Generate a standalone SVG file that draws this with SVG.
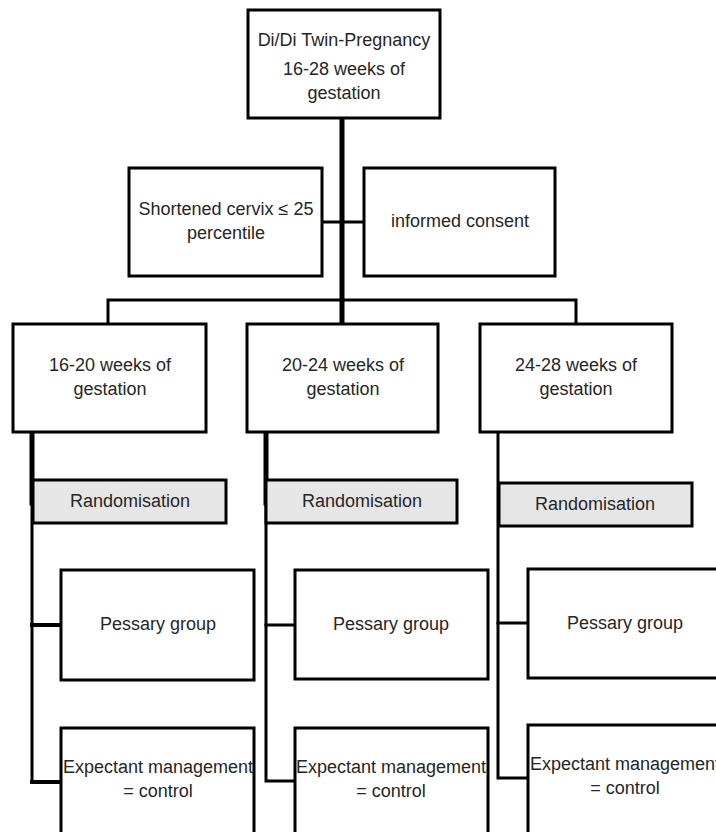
<svg xmlns="http://www.w3.org/2000/svg" width="716" height="832" viewBox="0 0 716 832">
<style>
.box{fill:#ffffff;stroke:#000;stroke-width:3}
.rnd{fill:#e6e6e6;stroke:#000;stroke-width:3}
.t{font-family:"Liberation Sans",Arial,sans-serif;font-size:18px;fill:#262626;text-anchor:middle}
.c{stroke:#000;fill:none;stroke-linecap:square}
</style>
<rect width="716" height="832" fill="#fff"/>
<g id="connectors">
<path class="c" stroke-width="5" d="M342 118V324"/>
<path class="c" stroke-width="3" d="M322 222H364"/>
<path class="c" stroke-width="3" d="M108 324V300H576V324"/>
<path class="c" stroke-width="3" d="M32 432V782H61"/>
<path class="c" stroke-width="5" d="M32 432V503"/>
<path class="c" stroke-width="4" d="M32 625H61"/>
<path class="c" stroke-width="4" d="M32 782H61"/>
<path class="c" stroke-width="3" d="M266 432V781H295"/>
<path class="c" stroke-width="5" d="M266 432V503"/>
<path class="c" stroke-width="3" d="M266 625H295"/>
<path class="c" stroke-width="3" d="M498 432V778H528"/>
<path class="c" stroke-width="3" d="M498 623H528"/>
</g>
<g id="top"><rect class="box" x="248" y="10" width="192" height="108"/>
<text class="t" x="344" y="46">Di/Di Twin-Pregnancy</text>
<text class="t" x="344" y="75">16-28 weeks of</text>
<text class="t" x="344" y="99">gestation</text></g>
<g id="cervix"><rect class="box" x="129" y="168" width="193" height="108"/>
<text class="t" x="226" y="215">Shortened cervix ≤ 25</text>
<text class="t" x="226" y="239">percentile</text></g>
<g id="consent"><rect class="box" x="364" y="168" width="191" height="108"/>
<text class="t" x="460" y="227">informed consent</text></g>
<g id="w1620"><rect class="box" x="13" y="324" width="193" height="108"/>
<text class="t" x="110" y="371">16-20 weeks of</text>
<text class="t" x="110" y="395">gestation</text></g>
<g id="w2024"><rect class="box" x="247" y="324" width="191" height="108"/>
<text class="t" x="343" y="371">20-24 weeks of</text>
<text class="t" x="343" y="395">gestation</text></g>
<g id="w2428"><rect class="box" x="480" y="324" width="192" height="108"/>
<text class="t" x="576" y="371">24-28 weeks of</text>
<text class="t" x="576" y="395">gestation</text></g>
<g id="rand1"><rect class="rnd" x="33" y="480" width="193" height="43"/>
<text class="t" x="130" y="507">Randomisation</text></g>
<g id="rand2"><rect class="rnd" x="266" y="480" width="191" height="43"/>
<text class="t" x="362" y="507">Randomisation</text></g>
<g id="rand3"><rect class="rnd" x="499" y="483" width="193" height="43"/>
<text class="t" x="595" y="510">Randomisation</text></g>
<g id="pess1"><rect class="box" x="61" y="570" width="193" height="110"/>
<text class="t" x="158" y="630">Pessary group</text></g>
<g id="pess2"><rect class="box" x="295" y="570" width="193" height="109"/>
<text class="t" x="391" y="630">Pessary group</text></g>
<g id="pess3"><rect class="box" x="528" y="569" width="196" height="109"/>
<text class="t" x="625" y="629">Pessary group</text></g>
<g id="exp1"><rect class="box" x="61" y="728" width="193" height="130"/>
<text class="t" x="158" y="773">Expectant management</text>
<text class="t" x="158" y="797">= control</text></g>
<g id="exp2"><rect class="box" x="295" y="728" width="193" height="130"/>
<text class="t" x="391" y="773">Expectant management</text>
<text class="t" x="391" y="797">= control</text></g>
<g id="exp3"><rect class="box" x="528" y="725" width="196" height="130"/>
<text class="t" x="625" y="770">Expectant management</text>
<text class="t" x="625" y="794">= control</text></g>
</svg>
